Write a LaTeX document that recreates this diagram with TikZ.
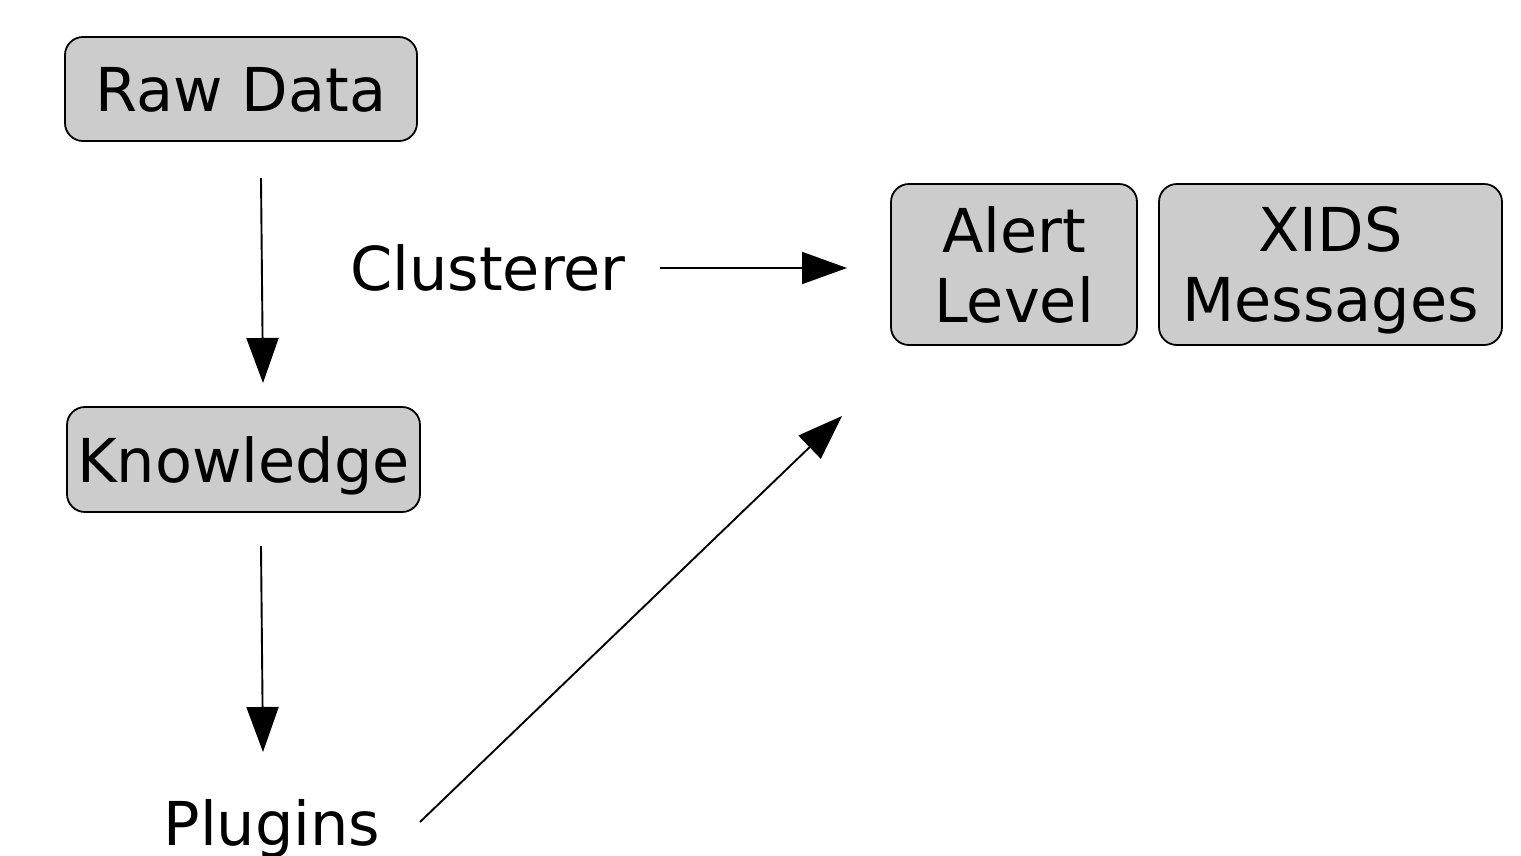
\documentclass[tikz,border=0pt]{standalone}
\usepackage{fontspec}
\setmainfont{DejaVu Sans}
\usetikzlibrary{arrows.meta}
\begin{document}
\begin{tikzpicture}[x=1pt,y=-1pt,
  box/.style={draw=black,line width=1.8pt,fill=boxgray,rounded corners=18pt,inner sep=0pt,align=center,text depth=0pt},
  lbl/.style={inner sep=0pt,anchor=base},
  conn/.style={line width=1.9pt,-{Triangle[length=45pt,width=32pt]}},
  every node/.style={font=\fontsize{60.5}{70}\selectfont}]
\definecolor{boxgray}{HTML}{CCCCCC}
\useasboundingbox (0,0) rectangle (1521,855);
\node[box,minimum width=352pt,minimum height=104pt] (raw) at (241,89) {Raw Data};
\node[box,minimum width=353pt,minimum height=105pt] (know) at (243.5,459.5) {Knowledge};
\node[box,minimum width=246pt,minimum height=161pt] (alert) at (1014,264.5) {Alert\\Level};
\node[box,minimum width=343pt,minimum height=161pt] (xids) at (1330.5,264.5) {XIDS\\Messages};
\node[lbl] (clus) at (488,290) {Clusterer};
\node[lbl] (plug) at (272,845) {Plugins};
\coordinate (a1s) at (261,178);
\coordinate (a1e) at (263,383);
\coordinate (a2s) at (261,546);
\coordinate (a2e) at (263,752);
\coordinate (a3s) at (660,268);
\coordinate (a3e) at (847,268);
\coordinate (a4s) at (420,822);
\coordinate (a4e) at (842,416);
\draw[conn] (a1s) -- (a1e);
\draw[conn] (a2s) -- (a2e);
\draw[conn] (a3s) -- (a3e);
\draw[conn] (a4s) -- (a4e);
\end{tikzpicture}
\end{document}
